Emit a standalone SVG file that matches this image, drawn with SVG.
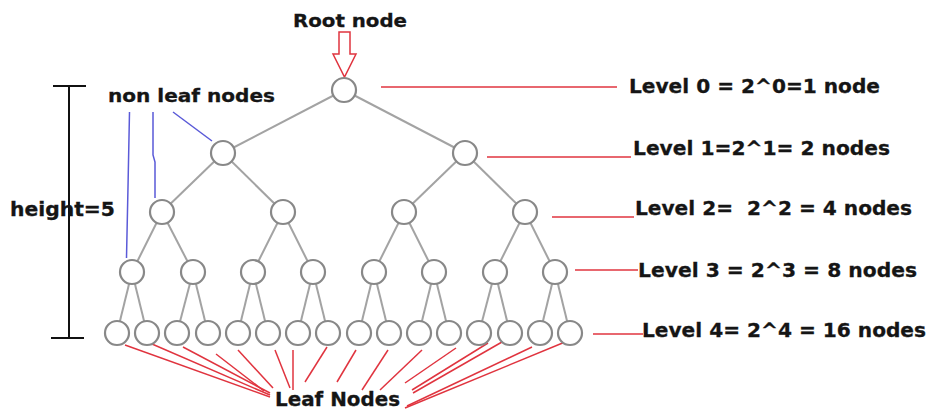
<svg xmlns="http://www.w3.org/2000/svg" width="928" height="411" viewBox="0 0 928 411">
<style>
.t{font-family:"DejaVu Sans","Liberation Sans",sans-serif;font-weight:bold;fill:#151515;stroke:#151515;stroke-width:0.3}
.e{stroke:#a3a3a3;stroke-width:2;fill:none}
.n{fill:#fff;stroke:#888;stroke-width:2.2}
.r{stroke:#e0343f;stroke-width:1.5;fill:none}
.b{stroke:#5a5ad8;stroke-width:1.5;fill:none}
.k{stroke:#111;stroke-width:2;fill:none}
</style>
<rect width="928" height="411" fill="#fff"/>
<g id="connectors">
<g class="e">
<line x1="344" y1="90" x2="223" y2="153"/><line x1="344" y1="90" x2="465" y2="153"/>
<line x1="223" y1="153" x2="162" y2="212"/><line x1="223" y1="153" x2="283" y2="212"/>
<line x1="465" y1="153" x2="404" y2="212"/><line x1="465" y1="153" x2="525" y2="212"/>
<line x1="162" y1="212" x2="132" y2="272"/><line x1="162" y1="212" x2="193" y2="272"/>
<line x1="283" y1="212" x2="253" y2="272"/><line x1="283" y1="212" x2="313" y2="272"/>
<line x1="404" y1="212" x2="374" y2="272"/><line x1="404" y1="212" x2="434" y2="272"/>
<line x1="525" y1="212" x2="495" y2="272"/><line x1="525" y1="212" x2="555" y2="272"/>
<line x1="132" y1="272" x2="117" y2="333"/><line x1="132" y1="272" x2="147" y2="333"/>
<line x1="193" y1="272" x2="177" y2="333"/><line x1="193" y1="272" x2="208" y2="333"/>
<line x1="253" y1="272" x2="238" y2="333"/><line x1="253" y1="272" x2="268" y2="333"/>
<line x1="313" y1="272" x2="298" y2="333"/><line x1="313" y1="272" x2="328" y2="333"/>
<line x1="374" y1="272" x2="359" y2="333"/><line x1="374" y1="272" x2="389" y2="333"/>
<line x1="434" y1="272" x2="419" y2="333"/><line x1="434" y1="272" x2="449" y2="333"/>
<line x1="495" y1="272" x2="479" y2="333"/><line x1="495" y1="272" x2="510" y2="333"/>
<line x1="555" y1="272" x2="540" y2="333"/><line x1="555" y1="272" x2="570" y2="333"/>
</g>
<g class="r">
<line x1="381" y1="87" x2="617" y2="87"/>
<line x1="487" y1="157" x2="631" y2="157"/>
<line x1="552" y1="217" x2="634" y2="217"/>
<line x1="575" y1="270" x2="638" y2="270"/>
<line x1="593" y1="334" x2="643" y2="334"/>
<line x1="125" y1="345" x2="270" y2="397"/>
<line x1="152" y1="344" x2="270" y2="395"/>
<line x1="183" y1="347" x2="270" y2="393"/>
<line x1="216" y1="354" x2="264" y2="391"/>
<line x1="238" y1="350" x2="273" y2="388"/>
<line x1="275" y1="350" x2="290" y2="388"/>
<line x1="293" y1="350" x2="293" y2="390"/>
<line x1="327" y1="347" x2="305" y2="382"/>
<line x1="356" y1="350" x2="337" y2="382"/>
<line x1="388" y1="350" x2="362" y2="390"/>
<line x1="422" y1="350" x2="380" y2="390"/>
<line x1="456" y1="348" x2="405" y2="383"/>
<line x1="488" y1="343" x2="412" y2="390"/>
<line x1="502" y1="342" x2="413" y2="393"/>
<line x1="532" y1="347" x2="407" y2="406"/>
<line x1="565" y1="342" x2="405" y2="408"/>
</g>
<g class="b">
<polyline points="129.5,112 128,187 126.5,258"/>
<polyline points="153,112 153,155 155,162 155,198"/>
<line x1="173" y1="112" x2="212" y2="141"/>
</g>
<g class="k">
<line x1="69" y1="86" x2="69" y2="338"/>
<line x1="53" y1="86" x2="86" y2="86"/>
<line x1="51" y1="338" x2="84" y2="338"/>
</g>
<polygon points="339,32 350,32 350,54 356,54 344.5,77 333,54 339,54" fill="#fff" stroke="#e0343f" stroke-width="1.5"/>
</g>
<g id="root"><circle class="n" cx="344" cy="90" r="12"/></g>
<g id="l1"><circle class="n" cx="223" cy="153" r="12"/><circle class="n" cx="465" cy="153" r="12"/></g>
<g id="l2"><circle class="n" cx="162" cy="212" r="12"/><circle class="n" cx="283" cy="212" r="12"/><circle class="n" cx="404" cy="212" r="12"/><circle class="n" cx="525" cy="212" r="12"/></g>
<g id="l3"><circle class="n" cx="132" cy="272" r="12"/><circle class="n" cx="193" cy="272" r="12"/><circle class="n" cx="253" cy="272" r="12"/><circle class="n" cx="313" cy="272" r="12"/><circle class="n" cx="374" cy="272" r="12"/><circle class="n" cx="434" cy="272" r="12"/><circle class="n" cx="495" cy="272" r="12"/><circle class="n" cx="555" cy="272" r="12"/></g>
<g id="l4"><circle class="n" cx="117" cy="333" r="12"/><circle class="n" cx="147" cy="333" r="12"/><circle class="n" cx="177" cy="333" r="12"/><circle class="n" cx="208" cy="333" r="12"/><circle class="n" cx="238" cy="333" r="12"/><circle class="n" cx="268" cy="333" r="12"/><circle class="n" cx="298" cy="333" r="12"/><circle class="n" cx="328" cy="333" r="12"/><circle class="n" cx="359" cy="333" r="12"/><circle class="n" cx="389" cy="333" r="12"/><circle class="n" cx="419" cy="333" r="12"/><circle class="n" cx="449" cy="333" r="12"/><circle class="n" cx="479" cy="333" r="12"/><circle class="n" cx="510" cy="333" r="12"/><circle class="n" cx="540" cy="333" r="12"/><circle class="n" cx="570" cy="333" r="12"/></g>
<g id="labels">
<text class="t" x="293" y="27" font-size="18" textLength="114" lengthAdjust="spacingAndGlyphs">Root node</text>
<text class="t" x="108" y="102" font-size="18" textLength="167" lengthAdjust="spacingAndGlyphs">non leaf nodes</text>
<text class="t" x="10" y="216" font-size="19" textLength="105" lengthAdjust="spacingAndGlyphs">height=5</text>
<text class="t" x="275" y="406" font-size="19" textLength="125" lengthAdjust="spacingAndGlyphs">Leaf Nodes</text>
<text class="t" x="629" y="93" font-size="20" textLength="251" lengthAdjust="spacingAndGlyphs">Level 0 = 2^0=1 node</text>
<text class="t" x="633" y="155" font-size="20" textLength="257" lengthAdjust="spacingAndGlyphs">Level 1=2^1= 2 nodes</text>
<text class="t" x="635" y="215" font-size="20" textLength="277" lengthAdjust="spacingAndGlyphs" xml:space="preserve">Level 2=  2^2 = 4 nodes</text>
<text class="t" x="638" y="277" font-size="20" textLength="279" lengthAdjust="spacingAndGlyphs">Level 3 = 2^3 = 8 nodes</text>
<text class="t" x="642" y="337" font-size="20" textLength="284" lengthAdjust="spacingAndGlyphs">Level 4= 2^4 = 16 nodes</text>
</g>
</svg>
